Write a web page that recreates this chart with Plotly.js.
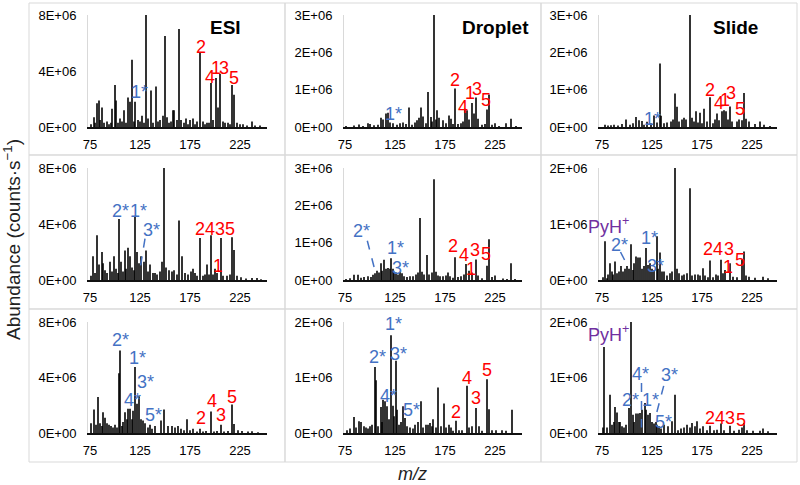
<!DOCTYPE html>
<html>
<head>
<meta charset="utf-8">
<script src="https://cdn.plot.ly/plotly-3.0.1.min.js"></script>
<style>
  html, body { margin: 0; padding: 0; background: #fff; }
  #plot { width: 800px; height: 485px; }
</style>
</head>
<body>
<div id="plot"></div>
<script>
const W = 800, H = 485;
const FONT = "Liberation Sans, Arial, sans-serif";

// x ticks shared by every panel
const xTickVals = [75, 125, 175, 225];

// y tick sets
const ticksEsi = [0, 4e6, 8e6];
const ticksEsiText = ["0E+00", "4E+06", "8E+06"];
const ticks3M = [0, 1e6, 2e6, 3e6];
const ticks3MText = ["0E+00", "1E+06", "2E+06", "3E+06"];
const ticks2M = [0, 1e6, 2e6];
const ticks2MText = ["0E+00", "1E+06", "2E+06"];

const panelTitles = ["ESI", "Droplet", "Slide"];

// ---- row 1 ----
const esi1Mz = [76, 79, 80, 82, 84, 85, 87, 89, 92, 94, 96, 97, 100, 101, 103, 105, 107, 109, 111, 113, 115, 117, 119, 120, 123, 125, 127, 129, 131, 133, 136, 138, 141, 143, 145, 148, 150, 152, 154, 156, 158, 159, 162, 164, 166, 169, 171, 173, 175, 178, 180, 182, 185, 188, 190, 192, 194, 196, 198, 201, 203, 205, 208, 210, 213, 215, 217, 219, 222, 225, 228, 232, 237, 240, 245];
const esi1Ab = [0.2e6, 0.7e6, 0.3e6, 1.7e6, 1.9e6, 0.5e6, 1.4e6, 0.3e6, 0.4e6, 0.2e6, 0.3e6, 1.3e6, 3.0e6, 1.9e6, 0.3e6, 0.6e6, 0.4e6, 1.2e6, 0.3e6, 2.1e6, 1.8e6, 4.8e6, 0.4e6, 1.8e6, 0.5e6, 0.4e6, 0.8e6, 0.3e6, 8.0e6, 0.6e6, 2.6e6, 0.3e6, 2.9e6, 0.4e6, 0.5e6, 0.8e6, 6.5e6, 0.7e6, 0.3e6, 0.4e6, 1.2e6, 1.2e6, 0.5e6, 7.0e6, 0.5e6, 0.3e6, 0.6e6, 0.2e6, 0.5e6, 0.6e6, 0.2e6, 0.4e6, 5.3e6, 0.4e6, 0.2e6, 0.3e6, 0.3e6, 3.15e6, 0.5e6, 3.5e6, 1.4e6, 3.8e6, 0.4e6, 0.3e6, 0.3e6, 0.2e6, 3.0e6, 2.3e6, 0.3e6, 0.2e6, 0.2e6, 0.1e6, 0.4e6, 0.1e6, 0.1e6];

const drop1Mz = [76, 84, 89, 93, 98, 100, 104, 108, 111, 113, 116, 118, 120, 123, 127, 130, 133, 136, 139, 142, 145, 147, 149, 151, 153, 156, 158, 161, 162, 164, 166, 167, 169, 173, 176, 179, 181, 183, 185, 188, 191, 193, 195, 197, 199, 202, 204, 206, 208, 212, 215, 217, 219, 222, 225, 229, 236, 241, 246];
const drop1Ab = [0.03e6, 0.04e6, 0.07e6, 0.03e6, 0.1e6, 0.08e6, 0.05e6, 0.06e6, 0.25e6, 0.2e6, 0.36e6, 0.38e6, 0.12e6, 0.1e6, 0.06e6, 0.1e6, 0.12e6, 0.08e6, 0.52e6, 0.06e6, 0.12e6, 0.18e6, 0.25e6, 0.52e6, 0.28e6, 0.1e6, 0.94e6, 0.27e6, 0.15e6, 3.0e6, 0.2e6, 0.45e6, 0.25e6, 0.18e6, 0.1e6, 0.31e6, 0.22e6, 0.08e6, 1.03e6, 0.08e6, 0.1e6, 0.15e6, 0.49e6, 0.45e6, 0.2e6, 0.64e6, 0.36e6, 0.79e6, 0.22e6, 0.06e6, 0.08e6, 0.47e6, 0.87e6, 0.06e6, 0.1e6, 0.03e6, 0.1e6, 0.22e6, 0.03e6];

const slide1Mz = [78, 81, 84, 87, 91, 95, 99, 103, 106, 109, 112, 115, 117, 120, 124, 127, 130, 133, 134, 137, 140, 144, 146, 148, 150, 152, 155, 157, 159, 163, 165, 167, 169, 171, 173, 175, 177, 180, 183, 186, 188, 190, 192, 195, 197, 199, 201, 203, 205, 210, 212, 215, 217, 219, 222, 228, 233, 237, 243];
const slide1Ab = [0.06e6, 0.04e6, 0.05e6, 0.06e6, 0.04e6, 0.08e6, 0.2e6, 0.06e6, 0.1e6, 0.27e6, 0.18e6, 0.16e6, 0.06e6, 0.14e6, 0.1e6, 0.31e6, 0.12e6, 1.7e6, 0.3e6, 0.1e6, 0.12e6, 0.15e6, 0.2e6, 0.9e6, 0.54e6, 0.15e6, 0.2e6, 0.25e6, 0.2e6, 3.0e6, 0.25e6, 0.15e6, 0.42e6, 0.12e6, 0.38e6, 0.1e6, 0.49e6, 0.15e6, 0.8e6, 0.1e6, 0.2e6, 0.36e6, 0.18e6, 0.42e6, 0.45e6, 0.42e6, 0.2e6, 0.55e6, 0.15e6, 0.15e6, 0.2e6, 0.18e6, 0.91e6, 0.22e6, 0.15e6, 0.08e6, 0.15e6, 0.06e6, 0.03e6];

// ---- row 2 ----
const esi2Mz = [76, 78, 80, 82, 84, 87, 88, 90, 92, 95, 97, 99, 101, 103, 104, 106, 108, 110, 111, 113, 115, 117, 119, 120, 122, 124, 126, 129, 131, 133, 135, 138, 140, 142, 145, 147, 149, 151, 154, 157, 159, 162, 164, 167, 170, 173, 176, 178, 180, 182, 185, 188, 190, 192, 194, 196, 198, 200, 202, 206, 208, 212, 215, 217, 219, 222, 226, 231, 237, 242, 246];
const esi2Ab = [0.3e6, 1.7e6, 0.5e6, 3.2e6, 1.1e6, 2.0e6, 1.2e6, 0.7e6, 0.5e6, 1.3e6, 0.6e6, 1.7e6, 0.8e6, 0.5e6, 4.35e6, 1.3e6, 0.6e6, 2.1e6, 0.8e6, 2.3e6, 1.7e6, 0.9e6, 0.7e6, 4.5e6, 2.0e6, 1.2e6, 1.7e6, 1.3e6, 2.1e6, 0.6e6, 1.1e6, 0.5e6, 0.5e6, 0.4e6, 0.6e6, 1.3e6, 8.0e6, 0.9e6, 0.7e6, 0.6e6, 0.7e6, 0.4e6, 4.25e6, 1.7e6, 0.5e6, 0.4e6, 0.6e6, 0.8e6, 0.5e6, 0.3e6, 3.0e6, 0.3e6, 0.4e6, 1.1e6, 0.4e6, 3.2e6, 0.4e6, 0.8e6, 0.5e6, 3.0e6, 0.3e6, 0.3e6, 0.4e6, 3.05e6, 2.15e6, 0.3e6, 0.2e6, 0.1e6, 0.15e6, 0.15e6, 0.05e6];

const drop2Mz = [76, 80, 84, 88, 91, 94, 98, 101, 103, 105, 107, 109, 111, 112, 114, 116, 118, 120, 121, 123, 124, 126, 128, 130, 132, 134, 137, 140, 143, 146, 148, 150, 152, 154, 157, 159, 162, 164, 166, 168, 170, 173, 176, 178, 180, 183, 185, 188, 191, 194, 196, 199, 202, 206, 208, 212, 217, 219, 222, 225, 233, 237, 241, 245];
const drop2Ab = [0.03e6, 0.05e6, 0.14e6, 0.14e6, 0.06e6, 0.08e6, 0.1e6, 0.08e6, 0.14e6, 0.18e6, 0.25e6, 0.2e6, 0.45e6, 0.25e6, 0.54e6, 0.3e6, 0.32e6, 0.3e6, 0.58e6, 0.3e6, 0.2e6, 0.2e6, 0.15e6, 0.22e6, 0.18e6, 0.1e6, 0.08e6, 0.1e6, 0.1e6, 0.15e6, 0.2e6, 1.66e6, 0.22e6, 0.15e6, 0.67e6, 0.15e6, 0.2e6, 2.7e6, 0.22e6, 0.12e6, 0.1e6, 0.1e6, 0.12e6, 0.2e6, 0.1e6, 0.06e6, 0.61e6, 0.08e6, 0.1e6, 0.15e6, 0.43e6, 0.25e6, 0.2e6, 0.55e6, 0.12e6, 0.05e6, 0.38e6, 1.09e6, 0.08e6, 0.12e6, 0.04e6, 0.03e6, 0.45e6, 0.03e6];

const slide2Mz = [76, 78, 80, 81, 83, 85, 86, 88, 90, 92, 94, 96, 98, 100, 102, 104, 106, 107, 109, 111, 113, 115, 117, 119, 121, 123, 125, 127, 130, 131, 133, 135, 137, 140, 143, 145, 148, 150, 152, 155, 157, 160, 163, 165, 168, 171, 173, 176, 178, 181, 183, 186, 189, 191, 194, 196, 198, 203, 206, 210, 215, 217, 219, 222, 228, 236, 241];
const slide2Ab = [0.05e6, 0.69e6, 0.03e6, 0.1e6, 0.3e6, 0.15e6, 0.1e6, 0.33e6, 0.12e6, 0.15e6, 0.25e6, 0.15e6, 0.2e6, 0.25e6, 0.2e6, 0.64e6, 0.18e6, 0.3e6, 0.42e6, 0.4e6, 0.4e6, 0.2e6, 0.25e6, 0.57e6, 0.27e6, 0.3e6, 0.2e6, 0.18e6, 0.78e6, 0.2e6, 0.49e6, 0.15e6, 0.15e6, 0.08e6, 0.12e6, 0.15e6, 2.0e6, 0.2e6, 0.12e6, 0.08e6, 0.1e6, 0.12e6, 1.64e6, 0.08e6, 0.1e6, 0.1e6, 0.08e6, 0.21e6, 0.08e6, 0.05e6, 0.35e6, 0.05e6, 0.1e6, 0.08e6, 0.36e6, 0.12e6, 0.18e6, 0.3e6, 0.06e6, 0.05e6, 0.36e6, 0.51e6, 0.08e6, 0.06e6, 0.04e6, 0.06e6, 0.03e6];

// ---- row 3 ----
const esi3Mz = [76, 79, 81, 83, 85, 87, 88, 90, 92, 94, 96, 98, 100, 102, 104, 105, 107, 108, 110, 112, 113, 115, 117, 118, 120, 122, 124, 126, 128, 130, 133, 135, 137, 140, 146, 149, 153, 157, 160, 163, 166, 169, 172, 175, 178, 182, 185, 188, 191, 196, 199, 202, 206, 209, 213, 217, 219, 223, 227, 233, 237, 243];
const esi3Ab = [0.7e6, 1.7e6, 0.6e6, 2.6e6, 0.7e6, 0.5e6, 1.5e6, 1.1e6, 0.7e6, 0.6e6, 0.5e6, 0.4e6, 0.6e6, 0.4e6, 4.3e6, 5.95e6, 0.5e6, 0.8e6, 1.5e6, 1.0e6, 1.75e6, 1.75e6, 1.0e6, 1.6e6, 4.75e6, 2.1e6, 2.65e6, 1.0e6, 0.9e6, 0.7e6, 0.4e6, 0.6e6, 0.3e6, 0.5e6, 0.9e6, 1.7e6, 0.5e6, 0.5e6, 0.4e6, 0.5e6, 0.3e6, 0.2e6, 1.0e6, 0.2e6, 0.3e6, 0.1e6, 0.3e6, 0.1e6, 0.15e6, 1.55e6, 0.1e6, 0.15e6, 0.6e6, 0.1e6, 0.15e6, 2.05e6, 0.65e6, 0.2e6, 0.15e6, 0.1e6, 0.12e6, 0.05e6];

const drop3Mz = [77, 80, 84, 86, 89, 91, 94, 96, 98, 100, 102, 105, 106, 108, 111, 112, 113, 115, 117, 119, 121, 123, 124, 126, 127, 129, 131, 133, 135, 137, 140, 143, 145, 148, 151, 153, 156, 158, 160, 162, 163, 166, 168, 171, 174, 176, 179, 181, 183, 186, 189, 192, 197, 199, 202, 206, 209, 212, 217, 219, 222, 226, 232, 236, 242];
const drop3Ab = [0.05e6, 0.08e6, 0.29e6, 0.1e6, 0.21e6, 0.2e6, 0.12e6, 0.1e6, 0.08e6, 0.12e6, 0.15e6, 1.19e6, 0.95e6, 0.12e6, 0.47e6, 0.2e6, 0.6e6, 0.57e6, 0.48e6, 0.25e6, 1.76e6, 0.49e6, 0.3e6, 1.3e6, 0.42e6, 0.15e6, 0.2e6, 0.48e6, 0.27e6, 0.12e6, 0.1e6, 0.08e6, 0.15e6, 0.2e6, 0.57e6, 0.1e6, 0.15e6, 0.15e6, 0.18e6, 0.12e6, 0.25e6, 0.1e6, 0.82e6, 0.12e6, 0.53e6, 0.1e6, 0.15e6, 0.1e6, 0.04e6, 0.22e6, 0.05e6, 0.05e6, 0.85e6, 0.1e6, 0.12e6, 0.45e6, 0.12e6, 0.04e6, 0.97e6, 0.43e6, 0.05e6, 0.05e6, 0.05e6, 0.04e6, 0.42e6];

const slide3Mz = [76, 77, 80, 83, 85, 87, 88, 90, 92, 93, 95, 97, 99, 102, 104, 106, 107, 109, 111, 113, 115, 118, 119, 121, 123, 125, 127, 129, 130, 132, 134, 137, 141, 145, 148, 151, 154, 157, 160, 163, 165, 168, 170, 173, 176, 180, 183, 187, 190, 194, 197, 203, 207, 212, 215, 217, 220, 226, 233, 236, 241];
const slide3Ab = [0.1e6, 1.55e6, 0.1e6, 0.69e6, 0.15e6, 0.2e6, 0.47e6, 0.37e6, 0.2e6, 0.2e6, 0.12e6, 0.1e6, 0.15e6, 0.45e6, 2.0e6, 0.33e6, 0.2e6, 0.35e6, 0.35e6, 0.36e6, 0.42e6, 0.54e6, 0.42e6, 0.33e6, 0.36e6, 0.2e6, 0.17e6, 0.2e6, 0.15e6, 0.12e6, 0.08e6, 0.15e6, 0.12e6, 0.21e6, 0.69e6, 0.05e6, 0.08e6, 0.1e6, 0.15e6, 0.1e6, 0.18e6, 0.12e6, 0.21e6, 0.08e6, 0.12e6, 0.05e6, 0.13e6, 0.05e6, 0.06e6, 0.17e6, 0.05e6, 0.13e6, 0.04e6, 0.06e6, 0.1e6, 0.18e6, 0.05e6, 0.04e6, 0.04e6, 0.08e6, 0.03e6];

const panelMz = [esi1Mz, drop1Mz, slide1Mz, esi2Mz, drop2Mz, slide2Mz, esi3Mz, drop3Mz, slide3Mz];
const panelAb = [esi1Ab, drop1Ab, slide1Ab, esi2Ab, drop2Ab, slide2Ab, esi3Ab, drop3Ab, slide3Ab];
const panelTicks = [ticksEsi, ticks3M, ticks3M, ticksEsi, ticks3M, ticks2M, ticksEsi, ticks2M, ticks2M];
const panelTickText = [ticksEsiText, ticks3MText, ticks3MText, ticksEsiText, ticks3MText, ticks2MText, ticksEsiText, ticks2MText, ticks2MText];

// peak labels: [panel, text, m/z, abundance, colour]
const peakLabels = [
  [0, "2", 185.5, 5.75e6, "r"], [0, "4", 195, 3.6e6, "r"], [0, "1", 201, 4.2e6, "r"],
  [0, "3", 209, 4.2e6, "r"], [0, "5", 218.5, 3.5e6, "r"], [0, "1*", 124, 2.5e6, "b"],
  [1, "2", 185, 1.25e6, "r"], [1, "4", 192.7, 0.54e6, "r"], [1, "1", 200, 0.9e6, "r"],
  [1, "3", 206.7, 1.03e6, "r"], [1, "5", 216, 0.72e6, "r"], [1, "1*", 123.3, 0.36e6, "b"],
  [2, "2", 183.3, 1.0e6, "r"], [2, "4", 192, 0.63e6, "r"], [2, "1", 198.3, 0.72e6, "r"],
  [2, "3", 204.3, 0.91e6, "r"], [2, "5", 213.3, 0.49e6, "r"], [2, "1*", 125, 0.22e6, "b"],
  [3, "2", 184.8, 3.63e6, "r"], [3, "4", 195, 3.63e6, "r"], [3, "3", 205, 3.63e6, "r"],
  [3, "5", 215.2, 3.63e6, "r"], [3, "1", 202.7, 1.0e6, "r"],
  [3, "2*", 105.4, 4.9e6, "b"], [3, "1*", 123, 4.9e6, "b"], [3, "3*", 136, 3.6e6, "b"],
  [4, "2*", 91.7, 1.3e6, "b"], [4, "1*", 125, 0.85e6, "b"], [4, "3*", 130, 0.31e6, "b"],
  [4, "2", 183.3, 0.9e6, "r"], [4, "4", 194, 0.67e6, "r"], [4, "3", 205, 0.8e6, "r"],
  [4, "5", 216, 0.7e6, "r"], [4, "1", 200.7, 0.29e6, "r"],
  [5, "PyH<sup>+</sup>", 81.7, 0.98e6, "p"], [5, "2*", 92.7, 0.63e6, "b"],
  [5, "1*", 122.7, 0.75e6, "b"], [5, "3*", 128.3, 0.25e6, "b"],
  [5, "2", 181, 0.55e6, "r"], [5, "4", 191, 0.55e6, "r"], [5, "3", 201.7, 0.55e6, "r"],
  [5, "1", 201, 0.23e6, "r"], [5, "5", 213.3, 0.36e6, "r"],
  [6, "2*", 105.4, 6.7e6, "b"], [6, "1*", 122.3, 5.4e6, "b"], [6, "3*", 130.7, 3.7e6, "b"],
  [6, "4*", 117.2, 2.35e6, "b"], [6, "5*", 138.5, 1.27e6, "b"],
  [6, "2", 185.5, 1.1e6, "r"], [6, "4", 196.6, 2.3e6, "r"], [6, "3", 205.7, 1.27e6, "r"],
  [6, "5", 217, 2.6e6, "r"],
  [7, "1*", 123.3, 1.96e6, "b"], [7, "2*", 107.3, 1.37e6, "b"], [7, "3*", 128.3, 1.43e6, "b"],
  [7, "4*", 118.3, 0.66e6, "b"], [7, "5*", 141.7, 0.42e6, "b"],
  [7, "2", 185.7, 0.37e6, "r"], [7, "4", 196.7, 1.0e6, "r"], [7, "3", 206, 0.63e6, "r"],
  [7, "5", 217.3, 1.13e6, "r"],
  [8, "PyH<sup>+</sup>", 81.7, 1.79e6, "p"], [8, "4*", 113.3, 1.06e6, "b"],
  [8, "3*", 142.7, 1.04e6, "b"], [8, "2*", 103.3, 0.6e6, "b"], [8, "1*", 123.3, 0.6e6, "b"],
  [8, "5*", 136.7, 0.19e6, "b"],
  [8, "2", 183.3, 0.27e6, "r"], [8, "4", 193.3, 0.27e6, "r"], [8, "3", 203.3, 0.27e6, "r"],
  [8, "5", 214, 0.24e6, "r"]
];

// dashed leaders: [panel, m/z from, ab from, m/z to, ab to]
const leaders = [
  [3, 130, 2.95e6, 125.5, 1.0e6],
  [4, 97.3, 1.05e6, 105.5, 0.2e6],
  [5, 93.5, 0.5e6, 101.5, 0.22e6],
  [8, 114.5, 0.9e6, 114.5, 0.1e6],
  [8, 136.7, 0.85e6, 128, 0.25e6]
];

const labelColors = { r: "#ff0000", b: "#4472c4", p: "#7030a0" };

// layout geometry (pixels)
const colPx = [[88, 267], [344, 522], [599, 777]];
const colRange = [[73, 252], [74, 252], [72, 250]];
const rowPx = [[15, 127], [168, 280], [322, 433]];
const boxCols = [[29, 285], [285, 541], [541, 797]];
const boxRows = [[3, 155], [155, 309], [309, 462]];

const px = (x) => x / W;
const py = (y) => 1 - y / H;

const traces = [];
const layout = {
  width: W,
  height: H,
  margin: { l: 0, r: 0, t: 0, b: 0 },
  paper_bgcolor: "#fff",
  plot_bgcolor: "rgba(0,0,0,0)",
  showlegend: false,
  hovermode: false,
  font: { family: FONT, size: 13, color: "#000" },
  annotations: [],
  shapes: []
};

for (let i = 0; i < 9; i++) {
  const row = Math.floor(i / 3);
  const col = i % 3;
  const n = i === 0 ? "" : String(i + 1);
  const ticks = panelTicks[i];

  traces.push({
    type: "bar",
    x: panelMz[i],
    y: panelAb[i],
    width: 1.6,
    marker: { color: "#000", line: { width: 0 } },
    xaxis: "x" + n,
    yaxis: "y" + n
  });

  layout["xaxis" + n] = {
    domain: [px(colPx[col][0]), px(colPx[col][1])],
    range: colRange[col],
    anchor: "y" + n,
    tickvals: xTickVals,
    ticktext: xTickVals.map(String),
    showgrid: false,
    zeroline: false,
    showline: true,
    linecolor: "#111",
    linewidth: 2,
    ticks: "",
    ticklabelstandoff: 4,
    tickfont: { family: FONT, size: 13, color: "#000" },
    fixedrange: true
  };
  layout["yaxis" + n] = {
    domain: [py(rowPx[row][1]), py(rowPx[row][0])],
    range: [0, ticks[ticks.length - 1]],
    anchor: "x" + n,
    tickvals: ticks,
    ticktext: panelTickText[i],
    showgrid: false,
    zeroline: false,
    showline: true,
    linecolor: "#d9d9d9",
    linewidth: 1,
    ticks: "",
    ticklabelstandoff: 8,
    tickfont: { family: FONT, size: 13, color: "#000" },
    fixedrange: true
  };

  layout.shapes.push({
    type: "rect", xref: "paper", yref: "paper",
    x0: px(boxCols[col][0]), x1: px(boxCols[col][1]),
    y0: py(boxRows[row][1]), y1: py(boxRows[row][0]),
    line: { color: "#d9d9d9", width: 1 }, layer: "below"
  });
}

// panel titles on the top row
const titleX = [226, 495, 735];
panelTitles.forEach((t, c) => {
  layout.annotations.push({
    text: "<b>" + t + "</b>", xref: "paper", yref: "paper",
    x: px(titleX[c]), y: py(27), xanchor: "center", yanchor: "middle",
    showarrow: false, font: { family: FONT, size: 19, color: "#000" }
  });
});

peakLabels.forEach(([p, text, mz, ab, c]) => {
  const n = p === 0 ? "" : String(p + 1);
  layout.annotations.push({
    text: text, xref: "x" + n, yref: "y" + n, x: mz, y: ab,
    xanchor: "center", yanchor: "middle", showarrow: false,
    font: { family: FONT, size: 18, color: labelColors[c] }
  });
});

leaders.forEach(([p, x0, y0, x1, y1]) => {
  const n = p === 0 ? "" : String(p + 1);
  layout.shapes.push({
    type: "line", xref: "x" + n, yref: "y" + n,
    x0: x0, y0: y0, x1: x1, y1: y1,
    line: { color: labelColors.b, width: 1.5, dash: "dash" }
  });
});

// axis titles
layout.annotations.push({
  text: "Abundance (counts·s<sup>−1</sup>)", xref: "paper", yref: "paper",
  x: px(12), y: py(240), xanchor: "center", yanchor: "middle",
  textangle: -90, showarrow: false,
  font: { family: FONT, size: 19, color: "#222" }
});
layout.annotations.push({
  text: "<i>m/z</i>", xref: "paper", yref: "paper",
  x: px(412), y: py(474), xanchor: "center", yanchor: "middle",
  showarrow: false, font: { family: FONT, size: 18, color: "#222" }
});

Plotly.newPlot("plot", traces, layout, { staticPlot: true });
</script>
</body>
</html>
